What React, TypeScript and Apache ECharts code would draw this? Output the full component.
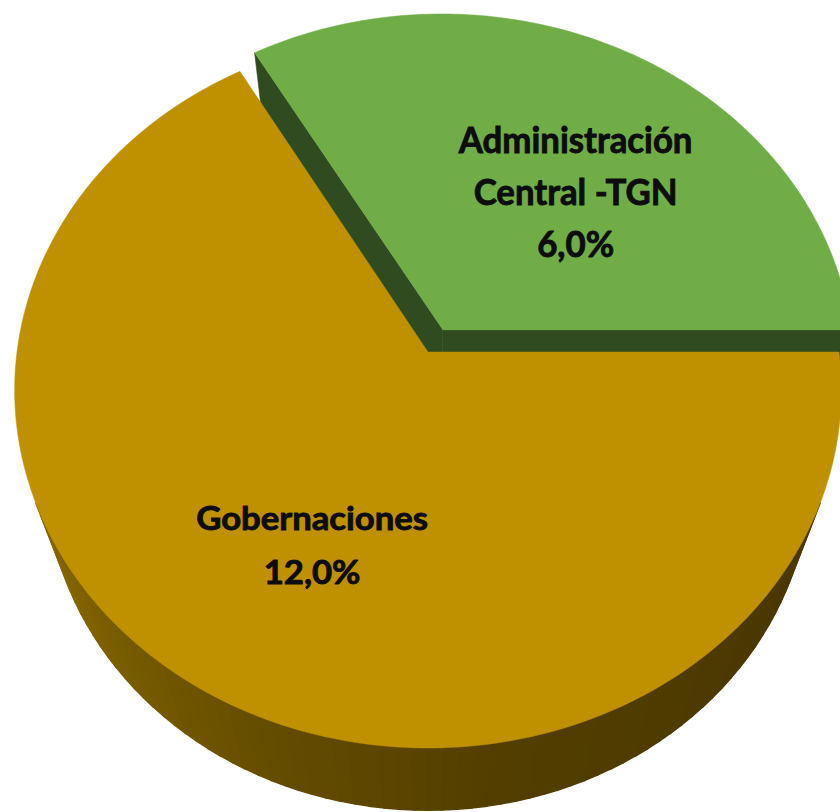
import React, { useEffect, useRef } from 'react';
import * as echarts from 'echarts';

// ---- data ----
const categories: string[] = ['Administración\nCentral -TGN', 'Gobernaciones'];
const values: number[] = [6.0, 12.0];

// ---- styling / layout (not data) ----
const topColors = ['#70AD47', '#BF9000'];
const radialSideColors = ['#2F4B1F', '#5A4300'];
const explodeDist = [0.073, 0];
const labelRadius = [0.53, 0.583];
const labelAngleShift = [-10, 2.8];
const labelDy = [-3, -2];
const labelFontSize = [37, 33];
const labelScaleX = [0.94, 1.05];
const labelLineHeight = [52, 54];

const CX = 428;
const CY = 352;
const K = 411;
const SIN_A = 0.861;
const COS_A = Math.sqrt(1 - SIN_A * SIN_A);
const RHO = 0.209;
const THICK = 0.44;
const START_DEG = 0;
const STEP = 2;

const rad = (d: number) => (d * Math.PI) / 180;

function project(X: number, Y: number, Z: number): [number, number] {
  const depth = COS_A * Y - SIN_A * Z + 1 / RHO;
  const f = K / (RHO * depth);
  return [CX + f * X, CY - f * (SIN_A * Y + COS_A * Z)];
}

const wallStops: [number, number[]][] = [
  [180, [150, 116, 0]],
  [215, [128, 98, 0]],
  [250, [100, 76, 0]],
  [280, [82, 62, 0]],
  [320, [76, 57, 0]],
  [360, [72, 54, 0]],
];

function wallColor(i: number, phi: number): string {
  if (i === 0) return radialSideColors[0];
  let p = ((phi % 360) + 360) % 360;
  if (p < 180) p = 180;
  for (let k = 0; k < wallStops.length - 1; k++) {
    const [a, ca] = wallStops[k];
    const [b, cb] = wallStops[k + 1];
    if (p >= a && p <= b) {
      const t = (p - a) / (b - a);
      const c = ca.map((v, j) => Math.round(v + (cb[j] - v) * t));
      return `rgb(${c[0]},${c[1]},${c[2]})`;
    }
  }
  return 'rgb(72,54,0)';
}

function fmtPct(v: number): string {
  return v.toFixed(1).replace('.', ',') + '%';
}

export default function App() {
  const ref = useRef<HTMLDivElement>(null);

  useEffect(() => {
    document.body.style.margin = '0';
    if (!ref.current) return;
    const chart = echarts.init(ref.current, null, { renderer: 'svg' });
    const total = values.reduce((a, b) => a + b, 0);
    const starts: number[] = [];
    let acc = 0;
    values.forEach((v) => {
      starts.push(START_DEG + (360 * acc) / total);
      acc += v;
    });

    const renderItem = (params: any, api: any) => {
      const i = params.dataIndex;
      const v = api.value(0);
      const a0 = starts[i];
      const a1 = a0 + (360 * v) / total;
      const mid = (a0 + a1) / 2;
      const ex = explodeDist[i] * Math.cos(rad(mid));
      const ey = explodeDist[i] * Math.sin(rad(mid));
      const camY = -COS_A / RHO;
      const children: any[] = [];

      // radial side faces
      [
        { th: a0, n: a0 - 90 },
        { th: a1, n: a1 + 90 },
      ].forEach(({ th, n }) => {
        const px = ex + 0.5 * Math.cos(rad(th));
        const py = ey + 0.5 * Math.sin(rad(th));
        const dot = Math.cos(rad(n)) * (0 - px) + Math.sin(rad(n)) * (camY - py);
        if (dot > 0) {
          const rx = ex + Math.cos(rad(th));
          const ry = ey + Math.sin(rad(th));
          children.push({
            type: 'polygon',
            shape: {
              points: [project(ex, ey, 0), project(rx, ry, 0), project(rx, ry, -THICK), project(ex, ey, -THICK)],
            },
            style: { fill: radialSideColors[i], stroke: radialSideColors[i], lineWidth: 0.6 },
          });
        }
      });

      // outer walls
      for (let p = a0; p < a1 - 1e-6; p += STEP) {
        const q = Math.min(p + STEP, a1);
        const pm = (p + q) / 2;
        const px = ex + Math.cos(rad(pm));
        const py = ey + Math.sin(rad(pm));
        const dot = Math.cos(rad(pm)) * (0 - px) + Math.sin(rad(pm)) * (camY - py);
        if (dot <= 0) continue;
        const col = wallColor(i, pm);
        const c0 = [ex + Math.cos(rad(p)), ey + Math.sin(rad(p))];
        const c1 = [ex + Math.cos(rad(q)), ey + Math.sin(rad(q))];
        children.push({
          type: 'polygon',
          shape: {
            points: [project(c0[0], c0[1], 0), project(c1[0], c1[1], 0), project(c1[0], c1[1], -THICK), project(c0[0], c0[1], -THICK)],
          },
          style: { fill: col, stroke: col, lineWidth: 1.4 },
        });
      }

      // top face
      const pts: [number, number][] = [project(ex, ey, 0)];
      for (let p = a0; p <= a1 + 1e-6; p += 1) {
        const pp = Math.min(p, a1);
        pts.push(project(ex + Math.cos(rad(pp)), ey + Math.sin(rad(pp)), 0));
      }
      children.push({
        type: 'polygon',
        shape: { points: pts },
        style: { fill: topColors[i], stroke: topColors[i], lineWidth: 0.5 },
      });

      // labels
      const la = mid + labelAngleShift[i];
      const [lx, ly] = project(
        ex + labelRadius[i] * Math.cos(rad(la)),
        ey + labelRadius[i] * Math.sin(rad(la)),
        0
      );
      const lines = categories[i].split('\n').concat([fmtPct(v)]);
      const n = lines.length;
      lines.forEach((t, j) => {
        children.push({
          type: 'text',
          x: lx,
          y: ly + labelDy[i] + (j - (n - 1) / 2) * labelLineHeight[i],
          scaleX: labelScaleX[i],
          style: {
            text: t,
            fill: '#0d0d0d',
            stroke: '#0d0d0d',
            lineWidth: 0.9,
            fontSize: labelFontSize[i],
            fontFamily: 'Lato',
            fontWeight: 'bold',
            align: 'center',
            verticalAlign: 'middle',
          },
        });
      });

      return { type: 'group', children };
    };

    chart.setOption({
      animation: false,
      backgroundColor: '#ffffff',
      series: [
        {
          type: 'custom',
          coordinateSystem: 'none',
          renderItem,
          silent: true,
          data: values.map((v, i) => ({ value: v, name: categories[i].replace('\n', ' ') })),
        },
      ],
    });
    return () => chart.dispose();
  }, []);

  return <div ref={ref} style={{ width: 840, height: 812 }} />;
}
